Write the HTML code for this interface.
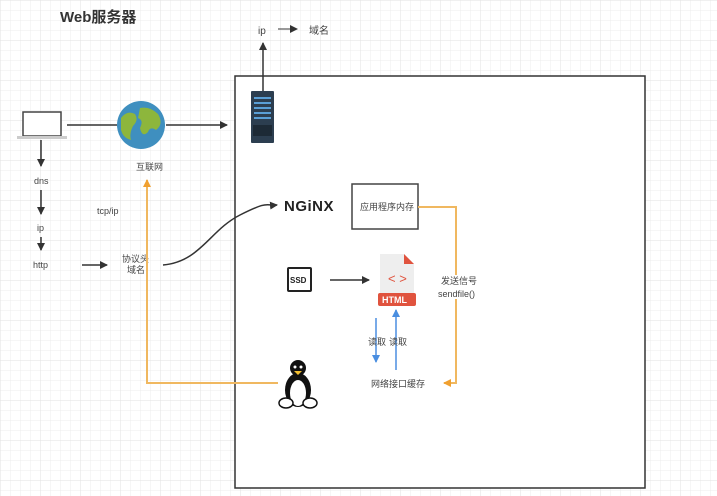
<!DOCTYPE html>
<html><head><meta charset="utf-8"><style>
html,body{margin:0;padding:0;width:717px;height:496px;overflow:hidden;background:#fff}
svg{display:block}
text{font-family:"Liberation Sans","Noto Sans CJK SC",sans-serif;fill:#444}
</style></head><body>
<svg width="717" height="496" viewBox="0 0 717 496" xmlns="http://www.w3.org/2000/svg">
<defs>
<pattern id="g" width="10" height="10" patternUnits="userSpaceOnUse"><path d="M10 0H0V10" fill="none" stroke="#ececec" stroke-width="1"/></pattern>
<pattern id="G" width="40" height="40" patternUnits="userSpaceOnUse"><rect width="40" height="40" fill="url(#g)"/><path d="M40 0H0V40" fill="none" stroke="#e2e2e2" stroke-width="1"/></pattern>
<marker id="a" markerWidth="8" markerHeight="8" refX="7" refY="4" orient="auto" markerUnits="userSpaceOnUse"><path d="M0,0 L8,4 L0,8z" fill="#333"/></marker>
<marker id="o" markerWidth="8" markerHeight="8" refX="7" refY="4" orient="auto" markerUnits="userSpaceOnUse"><path d="M0,0 L8,4 L0,8z" fill="#f0a030"/></marker>
<marker id="b" markerWidth="8" markerHeight="8" refX="7" refY="4" orient="auto" markerUnits="userSpaceOnUse"><path d="M0,0 L8,4 L0,8z" fill="#4a8ee0"/></marker>
</defs>
<rect width="717" height="496" fill="url(#G)"/>
<rect x="235" y="76" width="410" height="412" fill="#fff" stroke="#333" stroke-width="1.5"/>
<text x="60" y="22" font-size="15" font-weight="bold" style="fill:#333">Web服务器</text>
<text x="258" y="34" font-size="10">ip</text>
<line x1="278" y1="29" x2="297" y2="29" stroke="#333" marker-end="url(#a)"/>
<text x="309" y="34" font-size="10">域名</text>
<line x1="263" y1="91" x2="263" y2="43" stroke="#333" stroke-width="1.5" marker-end="url(#a)"/>
<!-- server -->
<rect x="251" y="91" width="23" height="52" fill="#2c3e50" rx="1"/>
<g fill="#5a9fd6"><rect x="254" y="97" width="17" height="2"/><rect x="254" y="102" width="17" height="2"/><rect x="254" y="107" width="17" height="2"/><rect x="254" y="112" width="17" height="2"/><rect x="254" y="117" width="17" height="2"/></g>
<rect x="253" y="125" width="19" height="11" fill="#1d2a36"/>
<!-- laptop -->
<rect x="23" y="112" width="38" height="24" fill="#fff" stroke="#444" stroke-width="1.5"/>
<rect x="17" y="136" width="50" height="3" fill="#ccc"/>
<line x1="67" y1="125" x2="117" y2="125" stroke="#333" stroke-width="1.5"/>
<circle cx="141" cy="125" r="24" fill="#3f8fbf"/>
<path d="M121,118 q6,-8 14,-4 q4,6 -2,12 q-4,8 -2,14 q-8,-2 -10,-10z M140,108 q10,-2 18,6 q6,10 -2,16 q-6,-4 -8,2 q-6,6 -8,-4 q4,-8 -2,-10z" fill="#8db63c"/>
<line x1="166" y1="125" x2="227" y2="125" stroke="#333" stroke-width="1.5" marker-end="url(#a)"/>
<text x="136" y="170" font-size="9">互联网</text>
<line x1="41" y1="140" x2="41" y2="166" stroke="#333" stroke-width="1.5" marker-end="url(#a)"/>
<text x="34" y="184" font-size="9">dns</text>
<line x1="41" y1="190" x2="41" y2="214" stroke="#333" stroke-width="1.5" marker-end="url(#a)"/>
<text x="37" y="231" font-size="9">ip</text>
<line x1="41" y1="237" x2="41" y2="250" stroke="#333" stroke-width="1.5" marker-end="url(#a)"/>
<text x="33" y="268" font-size="9">http</text>
<line x1="82" y1="265" x2="107" y2="265" stroke="#333" stroke-width="1.5" marker-end="url(#a)"/>
<text x="122" y="262" font-size="9">协议头</text>
<text x="127" y="273" font-size="9">域名</text>
<text x="97" y="214" font-size="9">tcp/ip</text>
<path d="M163,265 C200,262 210,230 240,215 S265,206 277,205" fill="none" stroke="#333" stroke-width="1.5" marker-end="url(#a)"/>
<polyline points="278,383 147,383 147,180" fill="none" stroke="#f0b860" stroke-width="2" marker-end="url(#o)"/>
<text x="284" y="211" font-size="15" font-weight="bold" style="fill:#222;letter-spacing:0.5px">NGiNX</text>
<rect x="352" y="184" width="66" height="45" fill="#fff" stroke="#444" stroke-width="1.5"/>
<text x="360" y="210" font-size="9">应用程序内存</text>
<polyline points="418,207 456,207 456,383 444,383" fill="none" stroke="#f0b860" stroke-width="2" marker-end="url(#o)"/>
<rect x="440" y="275" width="38" height="24" fill="#fff"/>
<text x="441" y="284" font-size="9">发送信号</text>
<text x="438" y="297" font-size="9">sendfile()</text>
<!-- ssd -->
<rect x="288" y="268" width="23" height="23" fill="#fff" stroke="#222" stroke-width="2" rx="1"/>
<text x="290" y="283" font-size="8" font-weight="bold" style="fill:#222">SSD</text>
<line x1="330" y1="280" x2="369" y2="280" stroke="#333" stroke-width="1.5" marker-end="url(#a)"/>
<!-- html -->
<path d="M380,254 H404 L414,264 V300 H380Z" fill="#eee"/>
<path d="M404,254 V264 H414Z" fill="#e0533e"/>
<text x="388" y="283" font-size="13" style="fill:#e0533e">&lt; &gt;</text>
<rect x="378" y="293" width="38" height="13" rx="2" fill="#e0533e"/>
<text x="382" y="303" font-size="9" font-weight="bold" style="fill:#fff">HTML</text>
<line x1="376" y1="318" x2="376" y2="362" stroke="#4a8ee0" stroke-width="1.5" marker-end="url(#b)"/>
<line x1="396" y1="370" x2="396" y2="310" stroke="#4a8ee0" stroke-width="1.5" marker-end="url(#b)"/>
<text x="368" y="345" font-size="9">读取</text>
<text x="389" y="345" font-size="9">读取</text>
<text x="371" y="387" font-size="9">网络接口缓存</text>
<!-- penguin -->
<ellipse cx="298" cy="390" rx="13" ry="17" fill="#111"/>
<ellipse cx="298" cy="393" rx="8" ry="13" fill="#fff"/>
<circle cx="298" cy="368" r="8" fill="#111"/>
<circle cx="295" cy="367" r="1.5" fill="#fff"/><circle cx="301" cy="367" r="1.5" fill="#fff"/>
<path d="M294,371 h8 l-4,4z" fill="#f4c030"/>
<ellipse cx="286" cy="403" rx="7" ry="5" fill="#fff" stroke="#111" stroke-width="1.5"/>
<ellipse cx="310" cy="403" rx="7" ry="5" fill="#fff" stroke="#111" stroke-width="1.5"/>
</svg>
</body></html>
